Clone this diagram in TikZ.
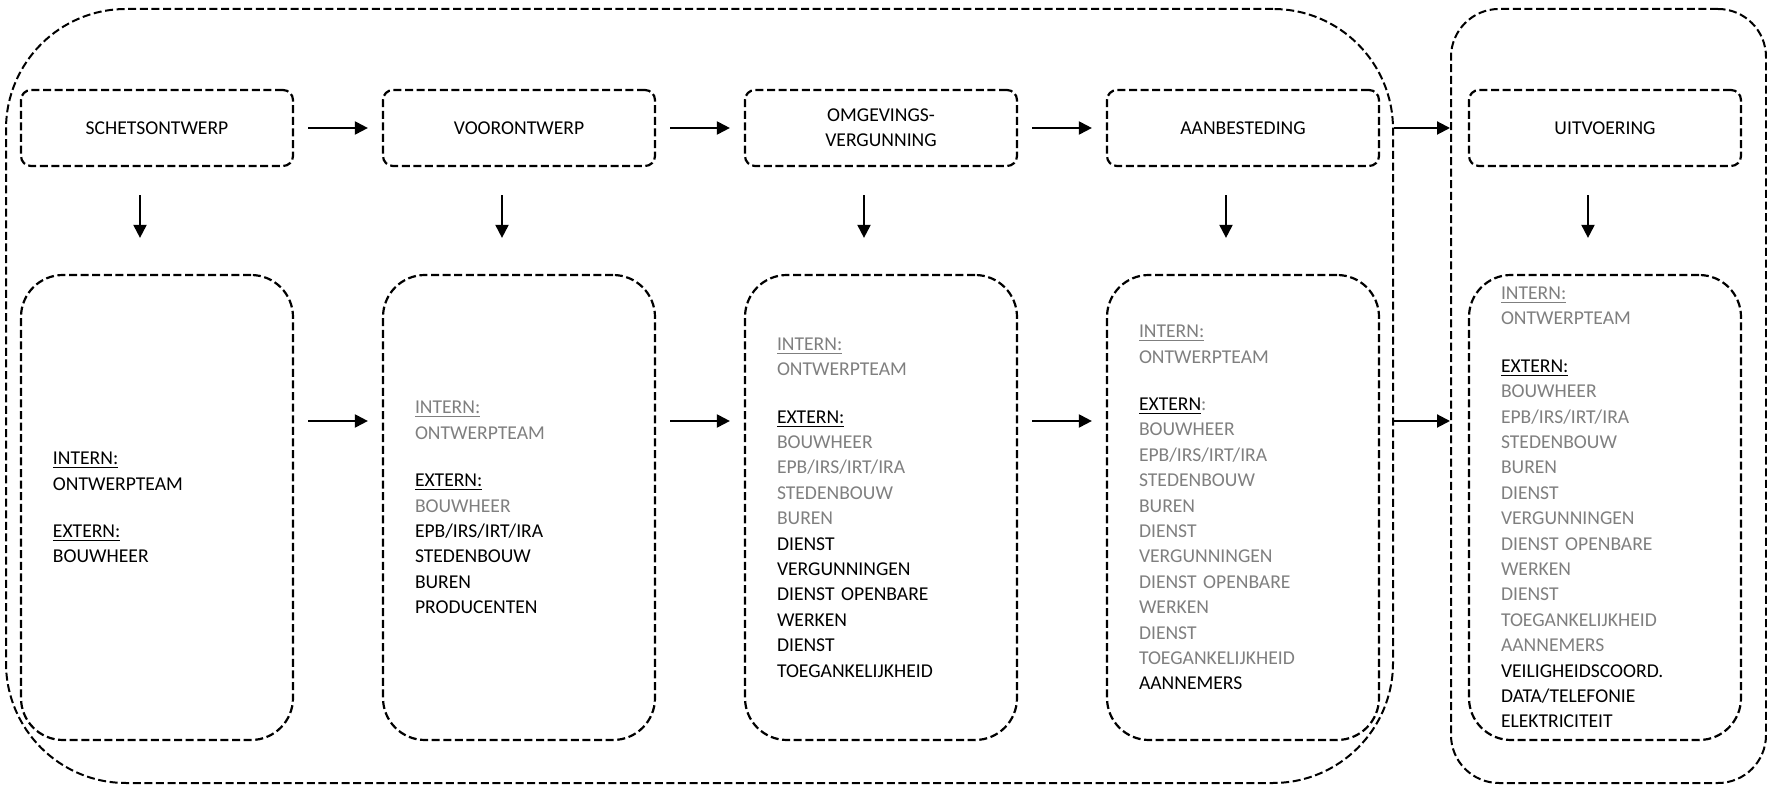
\documentclass[tikz,border=0pt]{standalone}
\usepackage{fontspec}
\setmainfont{Carlito}
\usetikzlibrary{arrows.meta,positioning}
\definecolor{grijs}{HTML}{7F7F7F}
\newcommand{\kop}[1]{\underline{#1}}
\newcommand{\gr}[1]{\textcolor{grijs}{#1}}

\begin{document}
\begin{tikzpicture}[x=0.5pt,y=-0.5pt,node distance=181pt,on grid,
		font=\fontsize{9.8}{12.7}\selectfont,
		streep/.style={dash pattern=on 4pt off 1.8pt,line width=1.1pt},
		fase/.style={draw,streep,rounded corners=5pt,minimum width=136pt,minimum height=38pt,align=center},
		lijst/.style={draw,streep,rounded corners=21pt,text width=104pt,inner xsep=16pt,inner ysep=2pt,minimum height=232.5pt,align=left},
		kader/.style={draw,streep,line width=1pt},
		pijl/.style={-{Triangle[length=6.5pt,width=6.5pt]},line width=1pt}]
		
		\useasboundingbox (0,0) rectangle (1767,785);
		
		% --- Kaders ---
		\node[kader,rounded corners=60pt,minimum width=693.5pt,minimum height=387pt] (ontwerp) at (699.5,396) {};
		\node[kader,rounded corners=24pt,minimum width=157.5pt,minimum height=387pt] (uitvoering) at (1608.5,396) {};
		
		% --- Fasen ---
		\node[fase] (schets) at (157,128) {SCHETSONTWERP};
		\node[fase] (voor)  [right=of schets] {VOORONTWERP};
		\node[fase] (omgev) [right=of voor] {OMGEVINGS-\\VERGUNNING};
		\node[fase] (aanb)  [right=of omgev] {AANBESTEDING};
		\node[fase] (uitv)  [right=of aanb] {UITVOERING};
		
		% --- Betrokkenen ---
		\node[lijst] (team1) [below=189.75pt of schets] {\kop{INTERN:}\\ONTWERPTEAM\\[11pt]\kop{EXTERN:}\\BOUWHEER};
		\node[lijst] (team2) [below=189.75pt of voor] {\gr{\kop{INTERN:}}\\\gr{ONTWERPTEAM}\\[11pt]\kop{EXTERN:}\\\gr{BOUWHEER}\\EPB/IRS/IRT/IRA\\STEDENBOUW\\BUREN\\PRODUCENTEN};
		\node[lijst] (team3) [below=189.75pt of omgev] {\gr{\kop{INTERN:}}\\\gr{ONTWERPTEAM}\\[11pt]\kop{EXTERN:}\\\gr{BOUWHEER}\\\gr{EPB/IRS/IRT/IRA}\\\gr{STEDENBOUW}\\\gr{BUREN}\\DIENST\\VERGUNNINGEN\\DIENST OPENBARE\\WERKEN\\DIENST\\TOEGANKELIJKHEID};
		\node[lijst] (team4) [below=189.75pt of aanb] {\gr{\kop{INTERN:}}\\\gr{ONTWERPTEAM}\\[11pt]\kop{EXTERN}\gr{:}\\\gr{BOUWHEER}\\\gr{EPB/IRS/IRT/IRA}\\\gr{STEDENBOUW}\\\gr{BUREN}\\\gr{DIENST}\\\gr{VERGUNNINGEN}\\\gr{DIENST OPENBARE}\\\gr{WERKEN}\\\gr{DIENST}\\\gr{TOEGANKELIJKHEID}\\AANNEMERS};
		\node[lijst] (team5) [below=189.75pt of uitv] {\gr{\kop{INTERN:}}\\\gr{ONTWERPTEAM}\\[11pt]\kop{EXTERN:}\\\gr{BOUWHEER}\\\gr{EPB/IRS/IRT/IRA}\\\gr{STEDENBOUW}\\\gr{BUREN}\\\gr{DIENST}\\\gr{VERGUNNINGEN}\\\gr{DIENST OPENBARE}\\\gr{WERKEN}\\\gr{DIENST}\\\gr{TOEGANKELIJKHEID}\\\gr{AANNEMERS}\\VEILIGHEIDSCOORD.\\DATA/TELEFONIE\\ELEKTRICITEIT};
		
		% --- Pijlen ---
		\path[pijl,shorten <=7pt,shorten >=7pt]
		(schets) edge (voor)
		(voor) edge (omgev)
		(omgev) edge (aanb)
		([yshift=43.25pt]team1.east) edge ([yshift=43.25pt]team2.west)
		([yshift=43.25pt]team2.east) edge ([yshift=43.25pt]team3.west)
		([yshift=43.25pt]team3.east) edge ([yshift=43.25pt]team4.west);
		
		\path[pijl]
		(ontwerp.east |- aanb.east) edge (uitvoering.west |- uitv.west)
		([yshift=-12.5pt]ontwerp.east) edge ([yshift=-12.5pt]uitvoering.west);
		
		\path[pijl,shorten <=14pt,shorten >=18pt]
		([xshift=-8.5pt]schets.south) edge ([xshift=-8.5pt]team1.north)
		([xshift=-8.5pt]voor.south) edge ([xshift=-8.5pt]team2.north)
		([xshift=-8.5pt]omgev.south) edge ([xshift=-8.5pt]team3.north)
		([xshift=-8.5pt]aanb.south) edge ([xshift=-8.5pt]team4.north)
		([xshift=-8.5pt]uitv.south) edge ([xshift=-8.5pt]team5.north);
	\end{tikzpicture}
\end{document}
